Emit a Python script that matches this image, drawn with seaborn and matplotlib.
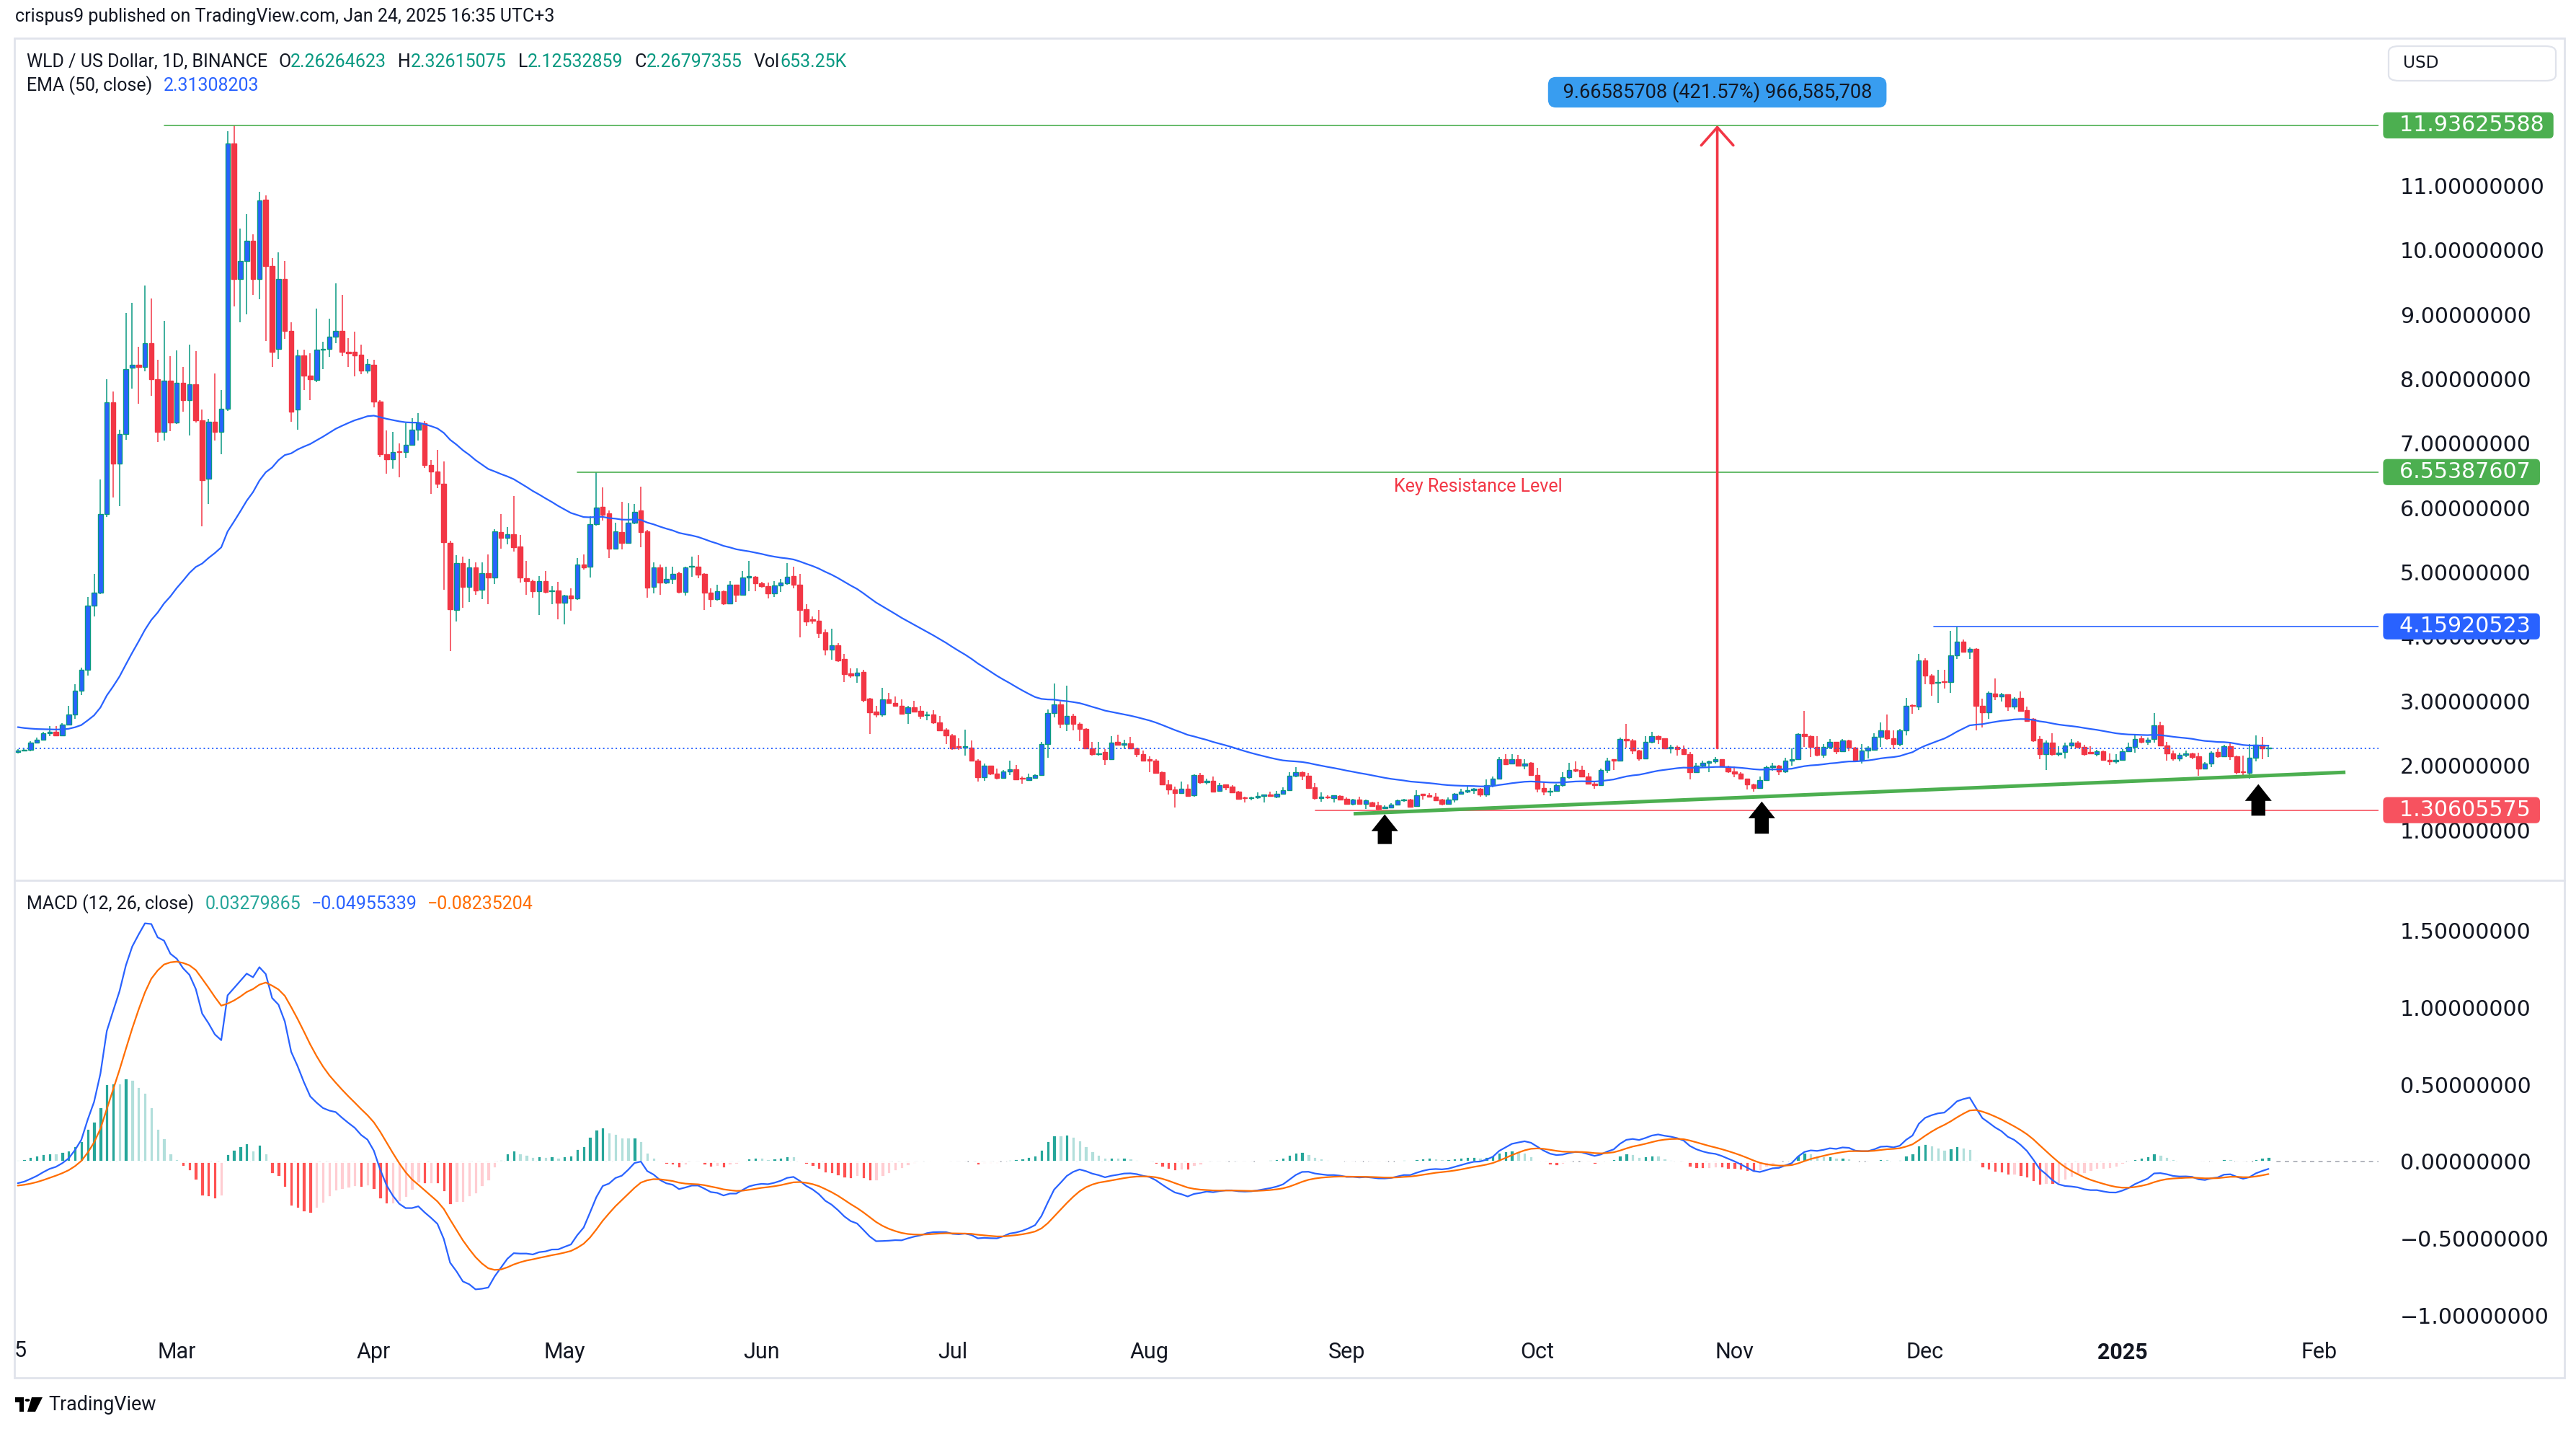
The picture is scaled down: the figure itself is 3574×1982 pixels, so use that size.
import numpy as np
import pandas as pd
import matplotlib
matplotlib.use("Agg")
import matplotlib.pyplot as plt
import matplotlib.dates as mdates
import matplotlib.transforms as mtransforms
from matplotlib.patches import Rectangle, FancyBboxPatch, Polygon, Circle
from matplotlib.lines import Line2D
import seaborn as sns

sns.set_theme(style="white")
plt.rcParams['font.family'] = ['Roboto', 'DejaVu Sans']

# ---------------- data ----------------
START = "2024-02-05"

OPEN = [
    2.21, 2.23, 2.24, 2.35, 2.40, 2.50, 2.52, 2.47, 2.63, 2.79,
    3.16, 3.48, 4.48, 4.68, 5.90, 7.64, 6.69, 7.14, 8.17, 8.22,
    8.19, 8.55, 8.00, 7.18, 7.97, 7.32, 7.94, 7.67, 7.92, 7.36,
    6.45, 7.34, 7.18, 7.54, 11.66, 9.55, 9.83, 10.14, 9.55, 10.78,
    9.75, 8.47, 9.55, 8.75, 7.52, 8.37, 8.05, 7.98, 8.45, 8.47,
    8.66, 8.74, 8.42, 8.42, 8.38, 8.13, 8.22, 7.65, 6.83, 6.75,
    6.87, 6.86, 6.98, 7.21, 7.31, 6.66, 6.56, 6.37, 5.46, 4.41,
    5.14, 4.77, 5.07, 4.73, 4.98, 4.92, 5.62, 5.53, 5.59, 5.40,
    4.91, 4.86, 4.70, 4.86, 4.70, 4.72, 4.52, 4.64, 4.59, 5.12,
    5.08, 5.75, 6.01, 5.91, 5.36, 5.62, 5.45, 5.77, 5.96, 5.63,
    4.77, 5.07, 4.84, 4.90, 4.98, 4.69, 5.08, 5.09, 4.97, 4.68,
    4.58, 4.70, 4.51, 4.80, 4.65, 4.92, 4.93, 4.83, 4.78, 4.67,
    4.79, 4.83, 4.94, 4.81, 4.42, 4.26, 4.25, 4.07, 3.80, 3.87,
    3.65, 3.43, 3.39, 3.45, 3.04, 2.83, 2.79, 3.03, 2.97, 2.93,
    2.81, 2.90, 2.85, 2.78, 2.79, 2.67, 2.56, 2.47, 2.29, 2.28,
    2.28, 2.08, 1.82, 2.00, 1.87, 1.81, 1.91, 1.94, 1.80, 1.77,
    1.81, 1.85, 2.33, 2.81, 2.95, 2.65, 2.77, 2.64, 2.57, 2.27,
    2.17, 2.21, 2.10, 2.36, 2.32, 2.34, 2.27, 2.18, 2.09, 2.08,
    1.89, 1.71, 1.63, 1.57, 1.64, 1.54, 1.85, 1.74, 1.76, 1.60,
    1.70, 1.67, 1.59, 1.50, 1.49, 1.50, 1.53, 1.54, 1.51, 1.56,
    1.62, 1.84, 1.90, 1.84, 1.66, 1.49, 1.52, 1.49, 1.53, 1.48,
    1.40, 1.47, 1.40, 1.43, 1.38, 1.34, 1.35, 1.39, 1.46, 1.47,
    1.37, 1.55, 1.54, 1.51, 1.47, 1.40, 1.47, 1.56, 1.59, 1.62,
    1.64, 1.55, 1.69, 1.80, 2.10, 2.03, 2.10, 2.00, 2.04, 1.85,
    1.65, 1.59, 1.60, 1.69, 1.82, 1.93, 1.93, 1.83, 1.72, 1.69,
    1.93, 2.085, 2.08, 2.41, 2.39, 2.23, 2.11, 2.36, 2.45, 2.42,
    2.26, 2.29, 2.25, 2.18, 1.90, 2.00, 2.04, 2.06, 2.10, 1.99,
    1.91, 1.87, 1.79, 1.71, 1.65, 1.77, 1.97, 2.00, 1.91, 2.07,
    2.10, 2.49, 2.45, 2.29, 2.16, 2.29, 2.36, 2.22, 2.39, 2.28,
    2.09, 2.23, 2.24, 2.44, 2.54, 2.42, 2.33, 2.54, 2.93, 2.91,
    3.63, 3.40, 3.28, 3.31, 3.30, 3.71, 3.92, 3.77, 3.81, 2.92,
    2.82, 3.12, 3.07, 3.10, 2.91, 3.05, 2.86, 2.72, 2.41, 2.17,
    2.35, 2.17, 2.21, 2.31, 2.35, 2.29, 2.20, 2.18, 2.22, 2.09,
    2.06, 2.09, 2.22, 2.29, 2.42, 2.37, 2.41, 2.62, 2.31, 2.19,
    2.11, 2.16, 2.19, 2.14, 1.95, 2.03, 2.21, 2.14, 2.30, 2.14,
    1.90, 1.88, 2.12, 2.32, 2.26264623,
]

HIGH = [
    2.25, 2.26, 2.38, 2.43, 2.52, 2.61, 2.61, 2.66, 2.92, 3.26,
    3.52, 4.61, 4.97, 6.44, 7.99, 7.80, 7.21, 9.02, 9.18, 8.50,
    9.45, 9.25, 8.30, 8.90, 8.35, 8.44, 8.19, 8.53, 8.43, 7.52,
    7.38, 8.09, 7.83, 11.84, 11.93625588, 10.33, 10.56, 10.24, 10.90, 10.85,
    9.87, 9.97, 9.83, 8.88, 8.45, 8.45, 8.40, 9.09, 8.58, 8.94,
    9.48, 9.30, 8.63, 8.73, 8.53, 8.31, 8.30, 7.67, 7.20, 7.18,
    7.00, 7.31, 7.39, 7.47, 7.35, 6.74, 6.90, 6.72, 5.49, 5.26,
    5.24, 5.21, 5.15, 5.15, 5.28, 5.67, 5.90, 5.70, 6.18, 5.58,
    5.18, 4.88, 4.94, 5.02, 4.78, 4.85, 4.65, 4.75, 5.22, 5.27,
    5.87, 6.55387607, 6.32, 5.96, 5.77, 6.09, 6.07, 6.06, 6.33, 5.66,
    5.15, 5.12, 5.08, 5.08, 5.01, 5.09, 5.24, 5.26, 4.99, 4.75,
    4.81, 4.72, 4.86, 4.81, 5.02, 5.17, 4.94, 4.85, 4.84, 4.86,
    4.90, 5.14, 5.09, 4.97, 4.50, 4.31, 4.41, 4.11, 4.12, 3.90,
    3.73, 3.51, 3.51, 3.48, 3.05, 2.92, 3.20, 3.13, 3.07, 3.03,
    2.93, 3.00, 2.93, 2.83, 2.86, 2.77, 2.58, 2.49, 2.42, 2.56,
    2.39, 2.10, 2.03, 2.00, 1.95, 1.93, 2.07, 2.01, 1.83, 1.87,
    1.86, 2.37, 2.87, 3.27, 2.99, 3.24, 2.80, 2.67, 2.58, 2.37,
    2.36, 2.25, 2.46, 2.48, 2.40, 2.44, 2.28, 2.23, 2.14, 2.10,
    1.91, 1.77, 1.67, 1.75, 1.71, 1.86, 1.88, 1.79, 1.83, 1.73,
    1.71, 1.69, 1.60, 1.52, 1.52, 1.58, 1.55, 1.59, 1.60, 1.66,
    1.89, 1.97, 1.91, 1.88, 1.73, 1.58, 1.54, 1.54, 1.54, 1.50,
    1.48, 1.52, 1.47, 1.44, 1.44, 1.38, 1.41, 1.47, 1.48, 1.48,
    1.62, 1.56, 1.57, 1.57, 1.48, 1.50, 1.57, 1.64, 1.68, 1.65,
    1.65, 1.78, 1.83, 2.13, 2.17, 2.17, 2.16, 2.10, 2.05, 1.96,
    1.74, 1.65, 1.72, 1.90, 2.04, 2.06, 2.00, 1.88, 1.76, 1.95,
    2.12, 2.09, 2.43, 2.64, 2.41, 2.24, 2.46, 2.52, 2.47, 2.42,
    2.32, 2.31, 2.31, 2.21, 2.04, 2.07, 2.08, 2.13, 2.10, 2.00,
    1.98, 1.89, 1.80, 1.72, 1.83, 2.00, 2.04, 2.01, 2.12, 2.26,
    2.50, 2.85, 2.47, 2.45, 2.33, 2.41, 2.37, 2.41, 2.40, 2.29,
    2.33, 2.30, 2.50, 2.67, 2.79, 2.54, 2.57, 3.05, 2.95, 3.73,
    3.66, 3.42, 3.48, 3.49, 4.09, 4.15920523, 3.95, 3.83, 3.82, 3.04,
    3.15, 3.35, 3.13, 3.10, 3.06, 3.15, 2.91, 2.73, 2.45, 2.39,
    2.50, 2.30, 2.35, 2.41, 2.38, 2.32, 2.30, 2.24, 2.23, 2.19,
    2.18, 2.25, 2.35, 2.47, 2.45, 2.43, 2.81, 2.68, 2.36, 2.23,
    2.20, 2.23, 2.20, 2.20, 2.05, 2.22, 2.25, 2.32, 2.37, 2.15,
    2.15, 2.33, 2.47, 2.44, 2.32615075,
]

LOW = [
    2.19, 2.22, 2.22, 2.34, 2.39, 2.46, 2.45, 2.46, 2.62, 2.72,
    3.09, 3.39, 4.31, 4.66, 5.86, 6.16, 6.03, 7.06, 7.85, 7.62,
    8.12, 7.74, 7.02, 7.04, 7.19, 7.30, 7.49, 7.12, 7.32, 5.71,
    6.06, 7.04, 6.83, 7.50, 9.13, 8.88, 9.00, 9.30, 9.24, 8.59,
    8.18, 8.31, 8.62, 7.34, 7.21, 7.83, 7.67, 7.95, 8.15, 8.34,
    8.55, 8.35, 8.19, 8.04, 8.07, 8.09, 7.56, 6.79, 6.53, 6.61,
    6.47, 6.78, 6.97, 7.04, 6.62, 6.22, 6.30, 4.73, 3.78, 4.24,
    4.45, 4.54, 4.65, 4.58, 4.50, 4.82, 5.37, 5.43, 5.32, 4.84,
    4.65, 4.60, 4.33, 4.67, 4.50, 4.27, 4.19, 4.40, 4.57, 5.04,
    4.92, 5.72, 5.80, 5.22, 5.35, 5.35, 5.44, 5.74, 5.39, 4.60,
    4.67, 4.65, 4.82, 4.82, 4.67, 4.64, 4.93, 4.91, 4.41, 4.46,
    4.56, 4.49, 4.50, 4.54, 4.64, 4.70, 4.70, 4.76, 4.59, 4.61,
    4.69, 4.80, 4.75, 3.99, 4.17, 4.20, 3.98, 3.71, 3.64, 3.61,
    3.29, 3.36, 3.28, 2.98, 2.49, 2.75, 2.76, 2.96, 2.91, 2.79,
    2.65, 2.82, 2.72, 2.70, 2.65, 2.55, 2.33, 2.24, 2.24, 2.15,
    2.06, 1.75, 1.76, 1.85, 1.78, 1.80, 1.85, 1.77, 1.72, 1.76,
    1.80, 1.84, 2.12, 2.75, 2.58, 2.53, 2.55, 2.38, 2.26, 2.15,
    2.15, 2.01, 2.10, 2.31, 2.25, 2.26, 2.13, 2.08, 1.89, 1.87,
    1.70, 1.55, 1.35, 1.56, 1.53, 1.52, 1.72, 1.71, 1.58, 1.59,
    1.62, 1.57, 1.47, 1.43, 1.46, 1.48, 1.42, 1.51, 1.49, 1.55,
    1.62, 1.82, 1.77, 1.65, 1.47, 1.44, 1.48, 1.43, 1.46, 1.40,
    1.38, 1.40, 1.33, 1.36, 1.30605575, 1.33, 1.34, 1.39, 1.44, 1.36,
    1.36, 1.47, 1.50, 1.46, 1.38, 1.40, 1.43, 1.55, 1.57, 1.56,
    1.52, 1.52, 1.66, 1.78, 2.01, 2.02, 1.98, 1.94, 1.84, 1.58,
    1.54, 1.53, 1.59, 1.67, 1.80, 1.90, 1.82, 1.72, 1.64, 1.69,
    1.88, 1.93, 2.07, 2.28, 2.18, 2.08, 2.11, 2.34, 2.33, 2.26,
    2.19, 2.15, 2.17, 1.78, 1.89, 1.97, 1.89, 2.03, 1.98, 1.88,
    1.82, 1.78, 1.63, 1.59, 1.64, 1.76, 1.92, 1.85, 1.88, 2.00,
    2.10, 2.29, 2.13, 2.14, 2.12, 2.25, 2.18, 2.21, 2.22, 2.06,
    2.03, 2.11, 2.23, 2.29, 2.40, 2.25, 2.30, 2.47, 2.80, 2.86,
    3.26, 3.08, 2.97, 3.19, 3.13, 3.65, 3.75, 3.65, 2.55, 2.59,
    2.72, 3.02, 2.99, 2.85, 2.87, 2.84, 2.68, 2.37, 2.10, 1.93,
    2.15, 2.14, 2.11, 2.25, 2.27, 2.15, 2.17, 2.14, 2.08, 2.01,
    2.03, 2.08, 2.21, 2.20, 2.34, 2.32, 2.35, 2.30, 2.08, 2.07,
    2.06, 2.13, 2.10, 1.84, 1.95, 1.97, 2.12, 2.14, 2.09, 1.86,
    1.82, 1.80, 2.06, 2.10, 2.12532859,
]

CLOSE = [
    2.23, 2.24, 2.35, 2.40, 2.50, 2.52, 2.47, 2.63, 2.79, 3.16,
    3.48, 4.48, 4.68, 5.90, 7.64, 6.69, 7.14, 8.15, 8.22, 8.19,
    8.55, 8.00, 7.18, 7.97, 7.32, 7.94, 7.67, 7.92, 7.36, 6.43,
    7.34, 7.18, 7.54, 11.66, 9.55, 9.83, 10.14, 9.55, 10.77, 9.75,
    8.42, 9.55, 8.75, 7.49, 8.37, 8.05, 7.99, 8.45, 8.47, 8.65,
    8.74, 8.42, 8.40, 8.37, 8.13, 8.23, 7.65, 6.83, 6.75, 6.87,
    6.86, 6.98, 7.21, 7.31, 6.66, 6.56, 6.37, 5.47, 4.42, 5.14,
    4.77, 5.07, 4.72, 4.98, 4.92, 5.63, 5.53, 5.59, 5.39, 4.92,
    4.86, 4.70, 4.86, 4.69, 4.71, 4.52, 4.64, 4.59, 5.12, 5.07,
    5.75, 6.00, 5.89, 5.36, 5.63, 5.45, 5.77, 5.94, 5.62, 4.76,
    5.07, 4.84, 4.90, 4.97, 4.69, 5.07, 5.10, 4.96, 4.68, 4.58,
    4.70, 4.51, 4.80, 4.65, 4.92, 4.94, 4.83, 4.78, 4.67, 4.79,
    4.84, 4.93, 4.81, 4.41, 4.24, 4.25, 4.06, 3.80, 3.86, 3.63,
    3.42, 3.39, 3.44, 3.01, 2.82, 2.79, 3.03, 2.97, 2.92, 2.80,
    2.90, 2.84, 2.77, 2.79, 2.67, 2.55, 2.47, 2.27, 2.28, 2.29,
    2.07, 1.82, 2.00, 1.87, 1.81, 1.91, 1.94, 1.78, 1.79, 1.82,
    1.85, 2.33, 2.81, 2.95, 2.65, 2.77, 2.64, 2.57, 2.27, 2.17,
    2.19, 2.10, 2.35, 2.32, 2.34, 2.27, 2.18, 2.08, 2.08, 1.88,
    1.71, 1.63, 1.57, 1.64, 1.53, 1.85, 1.74, 1.76, 1.59, 1.69,
    1.66, 1.58, 1.48, 1.49, 1.50, 1.53, 1.54, 1.53, 1.56, 1.62,
    1.84, 1.90, 1.84, 1.65, 1.49, 1.52, 1.50, 1.54, 1.47, 1.40,
    1.47, 1.40, 1.46, 1.37, 1.33, 1.36, 1.39, 1.46, 1.47, 1.36,
    1.54, 1.54, 1.52, 1.46, 1.40, 1.47, 1.56, 1.59, 1.62, 1.625,
    1.55, 1.69, 1.80, 2.10, 2.02, 2.10, 2.00, 2.03, 1.85, 1.64,
    1.59, 1.60, 1.69, 1.82, 1.93, 1.92, 1.83, 1.72, 1.69, 1.93,
    2.08, 2.08, 2.41, 2.39, 2.23, 2.11, 2.36, 2.45, 2.41, 2.26,
    2.29, 2.25, 2.18, 1.90, 2.00, 2.04, 2.06, 2.10, 1.99, 1.91,
    1.87, 1.79, 1.71, 1.65, 1.77, 1.97, 2.00, 1.91, 2.07, 2.10,
    2.49, 2.45, 2.29, 2.16, 2.29, 2.36, 2.22, 2.39, 2.28, 2.09,
    2.23, 2.28, 2.44, 2.54, 2.42, 2.33, 2.54, 2.93, 2.92, 3.63,
    3.40, 3.27, 3.30, 3.29, 3.71, 3.92, 3.77, 3.81, 2.92, 2.82,
    3.13, 3.07, 3.10, 2.91, 3.04, 2.85, 2.69, 2.39, 2.17, 2.35,
    2.17, 2.20, 2.31, 2.35, 2.29, 2.17, 2.19, 2.22, 2.09, 2.06,
    2.09, 2.22, 2.29, 2.41, 2.37, 2.40, 2.62, 2.31, 2.19, 2.11,
    2.16, 2.19, 2.13, 1.95, 2.03, 2.20, 2.14, 2.30, 2.14, 1.90,
    1.89, 2.12, 2.32, 2.26, 2.26797355,
]

# indicator state at the first visible bar
EMA50_SEED = 2.61
EMA12_SEED = 2.25
EMA26_SEED = 2.40
SIGNAL_SEED = -0.16

# horizontal levels drawn on the chart
LEVEL_PRICES = [11.93625588, 6.55387607, 4.15920523, 1.30605575]
LEVEL_LABELS = ["11.93625588", "6.55387607", "4.15920523", "1.30605575"]
LEVEL_START_DAYS = [23.0, 88.0, 301.3, 204.1]
LEVEL_COLORS = ["#4caf50", "#4caf50", "#2962ff", "#f7525f"]

TREND_DAYS = [210.1, 366.1]
TREND_PRICES = [1.25, 1.894]

RANGE_DAY = 267.3
RANGE_FROM, RANGE_TO = 2.27, 11.93625588
RANGE_LABEL = "9.66585708 (421.57%) 966,585,708"
RANGE_LABEL_PRICE = 12.45

KEY_LABEL = "Key Resistance Level"
KEY_LABEL_DAY, KEY_LABEL_PRICE = 229.7, 6.33

ARROW_DAYS = [215.0, 274.3, 352.4]
ARROW_TIPS = [1.24, 1.44, 1.71]
ARROW_BOTTOMS = [0.78, 0.94, 1.22]

LAST_PRICE = 2.26797355

PRICE_TICKS = [1, 2, 3, 4, 5, 6, 7, 8, 9, 10, 11]
MACD_TICKS = [-1.0, -0.5, 0.0, 0.5, 1.0, 1.5]
MONTH_TICKS = ["2024-03-01", "2024-04-01", "2024-05-01", "2024-06-01", "2024-07-01",
               "2024-08-01", "2024-09-01", "2024-10-01", "2024-11-01", "2024-12-01",
               "2025-01-01", "2025-02-01"]
MONTH_LABELS = ["Mar", "Apr", "May", "Jun", "Jul", "Aug", "Sep", "Oct", "Nov", "Dec",
                "2025", "Feb"]

# ---------------- figure geometry ----------------
W_PX, H_PX, DPI = 3574, 1982, 200
fig = plt.figure(figsize=(W_PX / DPI, H_PX / DPI), dpi=DPI)
fig.patch.set_facecolor("white")


def fx(px):
    return px / W_PX


def fy(py):
    return 1 - py / H_PX


PL, PR = 20, 3300
ax = fig.add_axes([fx(PL), fy(1219), fx(PR - PL), (1219 - 53) / H_PX])
axm = fig.add_axes([fx(PL), fy(1850), fx(PR - PL), (1850 - 1222) / H_PX])

TXT = "#131722"
dates = pd.date_range(START, periods=len(CLOSE), freq="D")
xnum = mdates.date2num(dates)
x0 = xnum[0]
XL, XR = x0 - 0.53, x0 + 371.3

o, h, l, c = (np.array(v, dtype=float) for v in (OPEN, HIGH, LOW, CLOSE))


def ema(values, span, seed):
    s = pd.Series([seed] + list(values), dtype=float)
    return s.ewm(span=span, adjust=False).mean().iloc[1:].to_numpy()


ema50 = ema(c, 50, EMA50_SEED)
macd = ema(c, 12, EMA12_SEED) - ema(c, 26, EMA26_SEED)
signal = ema(macd, 9, SIGNAL_SEED)
hist = macd - signal

# ---------------- price panel ----------------
UP_EDGE, UP_FILL, DOWN = "#089981", "#2962ff", "#f23645"
up = c >= o
ax.vlines(xnum, l, h, colors=[UP_EDGE if u else DOWN for u in up], linewidth=0.55, zorder=2)
ax.bar(xnum, np.maximum(np.abs(c - o), 0.015), bottom=np.minimum(o, c), width=0.74,
       color=[UP_FILL if u else DOWN for u in up],
       edgecolor=[UP_EDGE if u else DOWN for u in up], linewidth=0.5, zorder=3)

sns.lineplot(x=xnum, y=ema50, ax=ax, color="#2962ff", linewidth=0.8, zorder=4, legend=False)

ax.axhline(LAST_PRICE, color="#2962ff", linewidth=0.7, linestyle=(0, (1, 2)), zorder=5)

blend = mtransforms.blended_transform_factory(ax.transAxes, ax.transData)
for p, lab, d, col in zip(LEVEL_PRICES, LEVEL_LABELS, LEVEL_START_DAYS, LEVEL_COLORS):
    ax.plot([x0 + d, XR], [p, p], color=col, linewidth=0.6, zorder=5)
    ax.text(1 + (3310 - PR) / (PR - PL), p, "  " + lab + " ", transform=blend,
            ha="left", va="center", fontsize=10.8, family="DejaVu Sans", color="white",
            bbox=dict(boxstyle="round,pad=0.12,rounding_size=0.2", fc=col, ec="none"),
            clip_on=False, zorder=10)

ax.plot([x0 + TREND_DAYS[0], x0 + TREND_DAYS[1]], TREND_PRICES, color="#4caf50",
        linewidth=1.8, solid_capstyle="butt", zorder=6)

ax.annotate("", xy=(x0 + RANGE_DAY, RANGE_TO), xytext=(x0 + RANGE_DAY, RANGE_FROM),
            arrowprops=dict(arrowstyle="->,head_length=0.45,head_width=0.4", color="#f23645",
                            lw=1.3, shrinkA=0, shrinkB=0, mutation_scale=20), zorder=7)
ax.text(x0 + RANGE_DAY, RANGE_LABEL_PRICE, "  " + RANGE_LABEL + "  ", ha="center", va="center",
        fontsize=9.8, color=TXT,
        bbox=dict(boxstyle="round,pad=0.25,rounding_size=0.4", fc="#389df0", ec="none"), zorder=9)

ax.text(x0 + KEY_LABEL_DAY, KEY_LABEL_PRICE, KEY_LABEL, ha="center", va="center",
        fontsize=9, color="#f23645", zorder=8)

HW, SW, HEAD = 2.1, 1.1, 0.26
for d, tip, bot in zip(ARROW_DAYS, ARROW_TIPS, ARROW_BOTTOMS):
    xc = x0 + d
    yb = tip - HEAD
    pts = [(xc, tip), (xc + HW, yb), (xc + SW, yb), (xc + SW, bot), (xc - SW, bot),
           (xc - SW, yb), (xc - HW, yb)]
    ax.add_patch(Polygon(pts, closed=True, fc="black", ec="none", zorder=9))

ax.set_xlim(XL, XR)
ax.set_ylim(0.239, 13.289)
ax.set_xticks([])
ax.yaxis.tick_right()
ax.set_yticks(PRICE_TICKS)
ax.set_yticklabels([f"{v:.8f}" for v in PRICE_TICKS])
ax.tick_params(axis="y", length=0, pad=10.8, labelsize=10.8, labelcolor=TXT)
for t in ax.get_yticklabels():
    t.set_fontfamily("DejaVu Sans")
ax.set_xlabel("")
ax.set_ylabel("")
for s in ax.spines.values():
    s.set_visible(False)
ax.set_facecolor("white")

# ---------------- MACD panel ----------------
hist_colors = []
for i, v in enumerate(hist):
    prev = hist[i - 1] if i > 0 else v
    if v >= 0:
        hist_colors.append("#26a69a" if v > prev else "#b2dfdb")
    else:
        hist_colors.append("#ffcdd2" if v > prev else "#ff5252")
axm.axhline(0, color="#b2b5be", linewidth=0.7, linestyle=(0, (3, 3)), zorder=1)
axm.bar(xnum, hist, width=0.72, color=hist_colors, zorder=2)
sns.lineplot(x=xnum, y=macd, ax=axm, color="#2962ff", linewidth=0.8, zorder=3, legend=False)
sns.lineplot(x=xnum, y=signal, ax=axm, color="#ff6d00", linewidth=0.8, zorder=4, legend=False)

axm.set_xlim(XL, XR)
axm.set_ylim(-1.117, 1.818)
axm.yaxis.tick_right()
axm.set_yticks(MACD_TICKS)
axm.set_yticklabels([f"{v:.8f}".replace("-", "\u2212") for v in MACD_TICKS])
axm.tick_params(axis="y", length=0, pad=10.8, labelsize=10.8, labelcolor=TXT)
for t in axm.get_yticklabels():
    t.set_fontfamily("DejaVu Sans")
axm.set_xticks(mdates.date2num(pd.to_datetime(MONTH_TICKS)))
axm.set_xticklabels(MONTH_LABELS)
axm.tick_params(axis="x", length=0, pad=4, labelsize=11, labelcolor=TXT)
for t in axm.get_xticklabels():
    if t.get_text() == "2025":
        t.set_fontweight("bold")
axm.set_xlabel("")
axm.set_ylabel("")
for s in axm.spines.values():
    s.set_visible(False)
axm.set_facecolor("white")

fig.text(fx(20), fy(1873), "5", ha="left", va="center", fontsize=11, color=TXT)

# ---------------- frame, headers ----------------
fig.add_artist(Rectangle((fx(20), fy(1911)), fx(3558) - fx(20), (1911 - 53) / H_PX,
                         transform=fig.transFigure, fill=False, ec="#e0e3eb", lw=1.0))
fig.add_artist(Line2D([fx(20), fx(3558)], [fy(1220.5), fy(1220.5)], color="#e0e3eb", lw=1.0))

fig.add_artist(FancyBboxPatch((fx(3314), fy(112)), fx(3546) - fx(3314), (112 - 64) / H_PX,
                              boxstyle="round,pad=0,rounding_size=0.004",
                              transform=fig.transFigure, ec="#e0e3eb", fc="white", lw=0.8))
fig.text(fx(3334), fy(88), "USD", ha="left", va="center", fontsize=8.4,
         family="DejaVu Sans", color=TXT)

renderer = fig.canvas.get_renderer()


def segments(x_px, y_px, parts, size):
    x = x_px
    for text, color, gap in parts:
        t = fig.text(fx(x), fy(y_px), text, ha="left", va="center", fontsize=size, color=color)
        x += t.get_window_extent(renderer).width + gap


GREEN = "#089981"
segments(21, 23, [("crispus9 published on TradingView.com, Jan 24, 2025 16:35 UTC+3", TXT, 0)], 9)
segments(37, 86, [("WLD / US Dollar, 1D, BINANCE", TXT, 15),
                  ("O", TXT, 0), ("2.26264623", GREEN, 16),
                  ("H", TXT, 0), ("2.32615075", GREEN, 16),
                  ("L", TXT, 0), ("2.12532859", GREEN, 16),
                  ("C", TXT, 0), ("2.26797355", GREEN, 16),
                  ("Vol", TXT, 0), ("653.25K", GREEN, 0)], 9)
segments(37, 119, [("EMA (50, close)", TXT, 16), ("2.31308203", "#2962ff", 0)], 9)
segments(37, 1254, [("MACD (12, 26, close)", TXT, 16), ("0.03279865", "#26a69a", 14),
                    ("\u22120.04955339", "#2962ff", 14), ("\u22120.08235204", "#ff6d00", 0)], 9)

# TradingView logo
fig.add_artist(Rectangle((fx(21), fy(1945)), fx(33) - fx(21), 7 / H_PX,
                         transform=fig.transFigure, fc="black", ec="none"))
fig.add_artist(Rectangle((fx(27), fy(1958)), fx(33) - fx(27), 20 / H_PX,
                         transform=fig.transFigure, fc="black", ec="none"))
fig.add_artist(Polygon([(fx(44), fy(1938)), (fx(59), fy(1938)), (fx(49), fy(1958)),
                        (fx(38), fy(1958))], closed=True, transform=fig.transFigure,
                       fc="black", ec="none"))
fig.add_artist(Circle((fx(38), fy(1942)), 3.5 / W_PX, transform=fig.transFigure,
                      fc="black", ec="none"))
fig.text(fx(67), fy(1948), "TradingView", ha="left", va="center", fontsize=9.7, color=TXT)

fig.savefig("out.png", dpi=DPI, facecolor="white")
